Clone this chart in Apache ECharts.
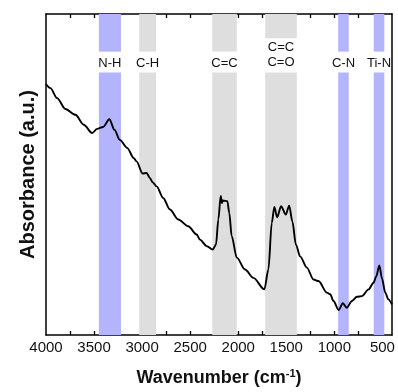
<!DOCTYPE html>
<html>
<head>
<meta charset="utf-8">
<script src="https://cdn.jsdelivr.net/npm/echarts@6/dist/echarts.min.js"></script>
<style>
html,body{margin:0;padding:0;background:#fff;}
#chart{width:398px;height:392px;}
</style>
</head>
<body>
<div id="chart"></div>
<script>
// Spectrum (wavenumber in cm-1, absorbance in arbitrary units 0-100)
const wavenumber = [4000,3954,3885,3798,3694,3607,3520,3468,3406,3341,3287,3232,3156,3086,3058,2995,2954,2919,2891,2849,2781,2711,2624,2520,2432,2398,2328,2266,2231,2207,2182,2169,2161,2113,2093,2068,2015,1929,1842,1728,1686,1651,1624,1595,1554,1505,1470,1436,1400,1356,1286,1217,1165,1077,1043,1009,956,911,871,817,765,713,644,592,563,532,504,470,438,400];
const absorbance = [78.2,76.9,73.8,70.4,68.6,65.5,62.9,64.2,64.8,67.2,63.9,60.8,58.3,55.1,54.1,50.3,50.5,48.9,47.6,46.3,42.7,39.1,36.0,33.9,31.3,29.7,27.7,26.6,28.2,36.0,43.3,41.1,41.9,41.7,38.0,30.8,24.1,20.4,17.8,14.2,20.4,34.9,39.9,36.7,40.1,37.5,40.3,35.3,28.2,24.5,21.0,17.3,16.8,13.2,12.7,10.6,7.8,9.9,8.5,10.6,11.9,12.1,14.2,16.3,18.3,21.7,17.6,13.2,11.1,9.5];

// Assignment bands
const bandNames = ['N-H','C-H','C=C','C=C\nC=O','C-N','Ti-N'];
const bandFrom  = [3450,3030,2270,1720,960,590];
const bandTo    = [3220,2855,2015,1390,850,480];
const bandKind  = ['N','C','C','C','N','N'];

// Axis ticks
const tickLabels = [4000,3500,3000,2500,2000,1500,1000,500];
const tickMarks = [3750,3500,3250,3000,2750,2500,2250,2000,1750,1500,1250,1000,750,500];

const colors = {N:'#b4b4fc', C:'#dedede'};
const FONT = 'Liberation Sans, Arial, sans-serif';

const areaData = [];
bandNames.forEach((name, i) => {
  const c = colors[bandKind[i]];
  const twoLine = name.indexOf('\n') >= 0;
  const topEnd = twoLine ? 92.45 : 88.28;
  areaData.push([
    {xAxis: bandFrom[i], yAxis: topEnd, itemStyle:{color:c, opacity:1},
     label:{show:true, formatter:name, position:'bottom', distance: twoLine ? 2 : 4,
            fontFamily:FONT, fontSize:13, lineHeight:15, color:'#111'}},
    {xAxis: bandTo[i], yAxis: 100}
  ]);
  areaData.push([
    {xAxis: bandFrom[i], yAxis: 0, itemStyle:{color:c, opacity:1}, label:{show:false}},
    {xAxis: bandTo[i], yAxis: 81.76}
  ]);
});

const spectrum = wavenumber.map((w, i) => [w, absorbance[i]]);

const axisLineStyle = {color:'#000', width:1.5};

const option = {
  animation:false,
  grid:{left:46, right:6, top:14, bottom:56},
  xAxis:[{
    type:'value', min:400, max:4000, inverse:true,
    axisLine:{show:true, onZero:false, lineStyle:axisLineStyle},
    axisTick:{show:true, inside:true, length:4, customValues:tickMarks, lineStyle:{color:'#000', width:1.3}},
    axisLabel:{show:true, customValues:tickLabels, margin:5, fontFamily:FONT, fontSize:15, color:'#111',
               formatter:(v) => String(v)},
    splitLine:{show:false},
    name:'{a|Wavenumber (cm}{s|-1}{a|)}', nameLocation:'middle', nameGap:33,
    nameTextStyle:{rich:{
      a:{fontFamily:FONT, fontSize:18, fontWeight:'bold', color:'#111'},
      s:{fontFamily:FONT, fontSize:11, fontWeight:'bold', color:'#111', verticalAlign:'top', padding:[0,0,9,0]}
    }}
  },{
    type:'value', position:'top', min:400, max:4000, inverse:true,
    axisLine:{show:true, onZero:false, lineStyle:axisLineStyle},
    axisTick:{show:true, inside:true, length:4, customValues:tickMarks, lineStyle:{color:'#000', width:1.3}},
    axisLabel:{show:false},
    splitLine:{show:false}
  }],
  yAxis:[{
    type:'value', min:0, max:100,
    axisLine:{show:true, onZero:false, lineStyle:axisLineStyle},
    axisTick:{show:false}, axisLabel:{show:false}, splitLine:{show:false},
    name:'Absorbance (a.u.)', nameLocation:'middle', nameGap:8, nameRotate:90,
    nameTextStyle:{fontFamily:FONT, fontSize:20, fontWeight:'bold', color:'#111'}
  },{
    type:'value', position:'right', min:0, max:100,
    axisLine:{show:true, onZero:false, lineStyle:axisLineStyle},
    axisTick:{show:false}, axisLabel:{show:false}, splitLine:{show:false}
  }],
  series:[{
    type:'line', data:[], z:1, silent:true,
    markArea:{silent:true, data:areaData}
  },{
    type:'line', data:spectrum, z:5, showSymbol:false, symbol:'none',
    smooth:0.3, smoothMonotone:'x',
    lineStyle:{color:'#000', width:1.9}
  }]
};

const chart = echarts.init(document.getElementById('chart'), null, {renderer:'canvas'});
chart.setOption(option);
</script>
</body>
</html>
